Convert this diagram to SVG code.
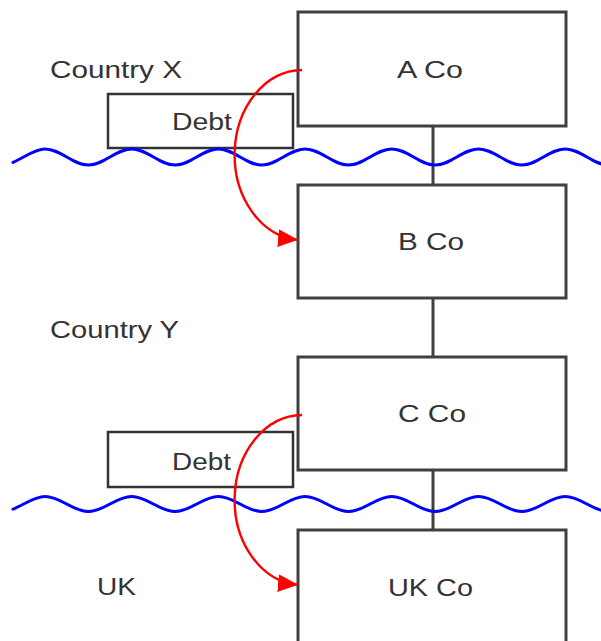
<svg xmlns="http://www.w3.org/2000/svg" width="601" height="641" viewBox="0 0 601 641">
<style>
.box{fill:#fff;stroke:#404040;stroke-width:3}
.debt{fill:#fff;stroke:#333;stroke-width:2.5}
.lbl{font-family:"Liberation Sans",Arial,sans-serif;font-size:23px;fill:#333}
.conn{stroke:#404040;stroke-width:3;fill:none}
.wave{stroke:#0000ff;stroke-width:3;fill:none;stroke-linecap:round}
.flow{stroke:#ff0000;stroke-width:2.4;fill:none}
</style>
<defs>
<marker id="ah" markerUnits="userSpaceOnUse" markerWidth="21" markerHeight="18" refX="20" refY="9" orient="auto">
<path d="M0 0 L20 9 L0 18 z" fill="#ff0000"/>
</marker>
</defs>
<rect width="601" height="641" fill="#fff"/>
<g id="labels">
<text class="lbl" x="50" y="78" textLength="132" lengthAdjust="spacingAndGlyphs">Country X</text>
<text class="lbl" x="50" y="338" textLength="129" lengthAdjust="spacingAndGlyphs">Country Y</text>
<text class="lbl" x="97" y="595" textLength="39" lengthAdjust="spacingAndGlyphs">UK</text>
</g>
<g id="connectors">
<line class="conn" x1="433" y1="126" x2="433" y2="185"/>
<line class="conn" x1="433" y1="298" x2="433" y2="357"/>
<line class="conn" x1="433" y1="470" x2="433" y2="530"/>
</g>
<g id="debt1">
<rect class="debt" x="108" y="94" width="185" height="54"/>
<text class="lbl" x="172" y="130" textLength="60" lengthAdjust="spacingAndGlyphs">Debt</text>
</g>
<g id="debt2">
<rect class="debt" x="108" y="432" width="185" height="55"/>
<text class="lbl" x="172" y="470" textLength="59" lengthAdjust="spacingAndGlyphs">Debt</text>
</g>
<g id="aco">
<rect class="box" x="298" y="12" width="268" height="114"/>
<text class="lbl" x="397" y="78" textLength="66" lengthAdjust="spacingAndGlyphs">A Co</text>
</g>
<g id="bco">
<rect class="box" x="298" y="185" width="268" height="113"/>
<text class="lbl" x="398" y="250" textLength="66" lengthAdjust="spacingAndGlyphs">B Co</text>
</g>
<g id="cco">
<rect class="box" x="298" y="357" width="268" height="113"/>
<text class="lbl" x="398" y="422" textLength="68" lengthAdjust="spacingAndGlyphs">C Co</text>
</g>
<g id="ukco">
<rect class="box" x="298" y="530" width="268" height="113"/>
<text class="lbl" x="388" y="596" textLength="85" lengthAdjust="spacingAndGlyphs">UK Co</text>
</g>
<g id="borders">
<path class="wave" d="M13 162.4 C23.67 157.9 34.33 149 45 149 c15.78 0 27.57 16 43.35 16 s27.57 -16 43.35 -16 s27.57 16 43.35 16 s27.57 -16 43.35 -16 s27.57 16 43.35 16 s27.57 -16 43.35 -16 s27.57 16 43.35 16 s27.57 -16 43.35 -16 s27.57 16 43.35 16 s27.57 -16 43.35 -16 s27.57 16 43.35 16 s27.57 -16 43.35 -16 s27.57 16 43.35 16"/>
<path class="wave" d="M13 509.1 C23.67 504.9 34.33 496.5 45 496.5 c15.78 0 27.57 15 43.35 15 s27.57 -15 43.35 -15 s27.57 15 43.35 15 s27.57 -15 43.35 -15 s27.57 15 43.35 15 s27.57 -15 43.35 -15 s27.57 15 43.35 15 s27.57 -15 43.35 -15 s27.57 15 43.35 15 s27.57 -15 43.35 -15 s27.57 15 43.35 15 s27.57 -15 43.35 -15 s27.57 15 43.35 15"/>
</g>
<g id="flows">
<path class="flow" d="M302 70 A68 85 0 0 0 298 239.8" marker-end="url(#ah)"/>
<path class="flow" d="M302 415 A68 85 0 0 0 298 584.8" marker-end="url(#ah)"/>
</g>
</svg>
